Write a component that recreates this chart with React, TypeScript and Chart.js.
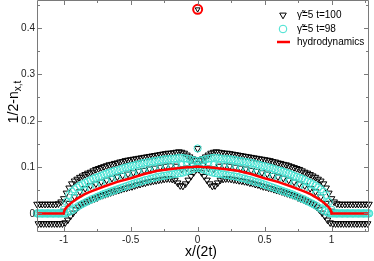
import React, { useEffect, useRef } from "react";
import { Chart, registerables } from "chart.js";
Chart.register(...registerables);

const FONT = "'Liberation Sans', Arial, Helvetica, sans-serif";

const X_MIN = -1.2;
const X_MAX = 1.28;
const Y_MIN = -0.04;
const Y_MAX = 0.46;

// lattice positions x/(2t)
const evenGrid = Array.from({ length: 125 }, (_, k) => -1.2 + 0.02 * k);
const oddGrid = Array.from({ length: 124 }, (_, k) => -1.19 + 0.02 * k);
const coarseGrid = Array.from({ length: 63 }, (_, k) => -1.2 + 0.04 * k);

// γ̃=5, t=100 (triangles)
const triUpperY = [
  0.02, 0.02, 0.02, 0.02, 0.02, 0.02, 0.02, 0.02,
  0.021, 0.025, 0.032, 0.044, 0.055, 0.064, 0.07, 0.074, 0.078, 0.081, 0.084, 0.087,
  0.089, 0.092, 0.095, 0.097, 0.099, 0.101, 0.103, 0.105, 0.106, 0.108,
  0.109, 0.111, 0.112, 0.114, 0.115, 0.116, 0.117, 0.118, 0.119, 0.12,
  0.121, 0.122, 0.123, 0.124, 0.125, 0.126, 0.127, 0.128, 0.129, 0.13,
  0.13, 0.131, 0.132, 0.133, 0.132, 0.13, 0.126, 0.122, 0.118, 0.115,
  0.14,
  0.115, 0.118, 0.122, 0.126, 0.13, 0.132, 0.133, 0.132, 0.131, 0.13,
  0.13, 0.129, 0.128, 0.127, 0.126, 0.125, 0.124, 0.123, 0.122, 0.121,
  0.12, 0.119, 0.118, 0.117, 0.116, 0.115, 0.114, 0.112, 0.111, 0.109,
  0.108, 0.106, 0.105, 0.103, 0.101, 0.099, 0.097, 0.095, 0.092, 0.089,
  0.087, 0.084, 0.081, 0.078, 0.074, 0.07, 0.064, 0.055, 0.044, 0.032, 0.025, 0.021,
  0.02, 0.02, 0.02, 0.02, 0.02, 0.02, 0.02, 0.02, 0.02, 0.02, 0.02, 0.02,
];
const triLowerY = [
  -0.022, -0.022, -0.022, -0.022, -0.022, -0.022, -0.022, -0.022, -0.022,
  -0.022, -0.02, -0.014, -0.006, 0.001, 0.008, 0.014, 0.019, 0.022, 0.025, 0.027,
  0.03, 0.032, 0.034, 0.037, 0.039, 0.041, 0.043, 0.045, 0.047, 0.049,
  0.05, 0.052, 0.054, 0.055, 0.057, 0.058, 0.06, 0.062, 0.063, 0.065,
  0.066, 0.068, 0.069, 0.07, 0.071, 0.072, 0.073, 0.074, 0.075, 0.075,
  0.074, 0.072, 0.066, 0.06, 0.059, 0.064, 0.072, 0.08, 0.088, 0.095,
  0.095, 0.088, 0.08, 0.072, 0.064, 0.059, 0.06, 0.066, 0.072, 0.074,
  0.075, 0.075, 0.074, 0.073, 0.072, 0.071, 0.07, 0.069, 0.068, 0.066,
  0.065, 0.063, 0.062, 0.06, 0.058, 0.057, 0.055, 0.054, 0.052, 0.05,
  0.049, 0.047, 0.045, 0.043, 0.041, 0.039, 0.037, 0.034, 0.032, 0.03,
  0.027, 0.025, 0.022, 0.019, 0.014, 0.008, 0.001, -0.006, -0.014, -0.02, -0.022,
  -0.022, -0.022, -0.022, -0.022, -0.022, -0.022, -0.022, -0.022, -0.022, -0.022, -0.022, -0.022, -0.022,
];
const triMidY = [
  null, null, null, null, null,
  0.005, 0.022, 0.036, 0.047, 0.054, 0.06, 0.064, 0.068, 0.072, 0.076,
  0.079, 0.082, 0.085, 0.088, 0.091, 0.093, 0.096, 0.098, 0.1, 0.102,
  0.103, 0.102, 0.096, 0.098, 0.104,
  0.108,
  0.104, 0.098, 0.096, 0.102, 0.103,
  0.102, 0.1, 0.098, 0.096, 0.093, 0.091, 0.088, 0.085, 0.082, 0.079,
  0.076, 0.072, 0.068, 0.064, 0.06, 0.054, 0.047, 0.036, 0.022, 0.005,
  null, null, null, null, null, null, null,
];

// γ̃=5, t=98 (circles)
const cyanUpY = [
  0, 0, 0, 0, 0, 0, 0, 0, 0, 0,
  0.008, 0.025, 0.04, 0.047, 0.052, 0.056, 0.06, 0.063, 0.066, 0.069,
  0.072, 0.075, 0.077, 0.079, 0.081, 0.084, 0.086, 0.088, 0.09, 0.092,
  0.093, 0.095, 0.097, 0.099, 0.1, 0.102, 0.103, 0.105, 0.106, 0.108,
  0.109, 0.11, 0.111, 0.112, 0.113, 0.114, 0.115, 0.116, 0.117, 0.117,
  0.118, 0.118, 0.119, 0.12, 0.12, 0.119, 0.118, 0.117, 0.115, 0.114,
  0.14,
  0.114, 0.115, 0.117, 0.118, 0.119, 0.12, 0.12, 0.119, 0.118, 0.118,
  0.117, 0.117, 0.116, 0.115, 0.114, 0.113, 0.112, 0.111, 0.11, 0.109,
  0.108, 0.106, 0.105, 0.103, 0.102, 0.1, 0.099, 0.097, 0.095, 0.093,
  0.092, 0.09, 0.088, 0.086, 0.084, 0.081, 0.079, 0.077, 0.075, 0.072,
  0.069, 0.066, 0.063, 0.06, 0.056, 0.052, 0.047, 0.04, 0.025, 0.008,
  0, 0, 0, 0, 0, 0, 0, 0, 0, 0, 0, 0, 0, 0,
];
const cyanLoY = [
  0, 0, 0, 0, 0, 0, 0, 0, 0, 0,
  0, 0.002, 0.005, 0.008, 0.012, 0.016, 0.019, 0.022, 0.025, 0.028,
  0.031, 0.033, 0.036, 0.038, 0.041, 0.043, 0.045, 0.047, 0.049, 0.051,
  0.053, 0.055, 0.057, 0.059, 0.061, 0.063, 0.065, 0.067, 0.068, 0.07,
  0.072, 0.073, 0.075, 0.076, 0.078, 0.079, 0.08, 0.081, 0.082, 0.083,
  0.084, 0.085, 0.086, 0.087, 0.088, 0.09, 0.092, 0.094, 0.096, 0.098,
  0.098, 0.096, 0.094, 0.092, 0.09, 0.088, 0.087, 0.086, 0.085, 0.084,
  0.083, 0.082, 0.081, 0.08, 0.079, 0.078, 0.076, 0.075, 0.073, 0.072,
  0.07, 0.068, 0.067, 0.065, 0.063, 0.061, 0.059, 0.057, 0.055, 0.053,
  0.051, 0.049, 0.047, 0.045, 0.043, 0.041, 0.038, 0.036, 0.033, 0.031,
  0.028, 0.025, 0.022, 0.019, 0.016, 0.012, 0.008, 0.005, 0.002, 0,
  0, 0, 0, 0, 0, 0, 0, 0, 0, 0, 0, 0, 0, 0,
];
const cyanMidY = [
  0, 0, 0, 0, 0,
  0, 0.022, 0.034, 0.042, 0.048, 0.054, 0.059, 0.064, 0.068, 0.072, 0.075, 0.079, 0.082, 0.085, 0.088, 0.091, 0.093, 0.096, 0.098, 0.1, 0.101, 0.103, 0.104, 0.105, 0.106,
  0.107,
  0.106, 0.105, 0.104, 0.103, 0.101, 0.1, 0.098, 0.096, 0.093, 0.091, 0.088, 0.085, 0.082, 0.079, 0.075, 0.072, 0.068, 0.064, 0.059, 0.054, 0.048, 0.042, 0.034, 0.022, 0,
  0, 0, 0, 0, 0, 0, 0,
];

// hydrodynamics curve
const hydroX = [-1.2, -1.0, -0.997, -0.99, -0.98, -0.96, -0.93, -0.9, -0.84, -0.8, -0.7, -0.6, -0.5, -0.4, -0.3, -0.2, -0.1, -0.04, 0, 0.04, 0.1, 0.2, 0.3, 0.4, 0.5, 0.6, 0.7, 0.8, 0.84, 0.9, 0.93, 0.96, 0.98, 0.99, 0.997, 1.0, 1.28];
const hydroY = [0, 0, 0.005, 0.009, 0.013, 0.019, 0.026, 0.032, 0.042, 0.047, 0.058, 0.068, 0.076, 0.085, 0.092, 0.096, 0.099, 0.1, 0.101, 0.1, 0.099, 0.096, 0.092, 0.085, 0.076, 0.068, 0.058, 0.047, 0.042, 0.032, 0.026, 0.019, 0.013, 0.009, 0.005, 0, 0];

// isolated point
const peakX = [0];
const peakY = [0.44];

const xTickLabels = [-1, -0.5, 0, 0.5, 1];
const yTickLabels = [0, 0.1, 0.2, 0.3, 0.4];

const LEGEND = ["γ̃=5 t=100", "γ̃=5 t=98", "hydrodynamics"];
const X_TITLE = "x/(2t)";
const Y_TITLE_MAIN = "1/2-n";
const Y_TITLE_SUB = "x,t";

const CYAN = "#40E0D0";
const FRAME = "#7a7a7a";

const pts = (xs: number[], ys: (number | null)[]) =>
  ys.map((y, i) => ({ x: xs[i], y })).filter((p) => p.y !== null);

const decorPlugin = {
  id: "decor",
  afterDraw(chart: any) {
    const { ctx, chartArea, scales } = chart;
    const { left, right, top, bottom } = chartArea;
    const xs = scales.x;
    const ys = scales.y;
    ctx.save();
    ctx.strokeStyle = FRAME;
    ctx.lineWidth = 1;
    ctx.beginPath();
    ctx.rect(left + 0.5, top + 0.5, right - left - 1, bottom - top - 1);
    ctx.stroke();
    ctx.beginPath();
    const xt: number[] = [];
    for (let v = -1.0; v <= 1.26; v += 0.25) xt.push(Math.round(v * 100) / 100);
    xt.forEach((v) => {
      const major = Math.abs(v * 2 - Math.round(v * 2)) < 1e-6;
      const len = major ? 5 : 3;
      const px = Math.round(xs.getPixelForValue(v)) + 0.5;
      ctx.moveTo(px, bottom);
      ctx.lineTo(px, bottom - len);
      ctx.moveTo(px, top);
      ctx.lineTo(px, top + len);
    });
    const yt: number[] = [];
    for (let v = 0; v <= 0.451; v += 0.05) yt.push(Math.round(v * 100) / 100);
    yt.forEach((v) => {
      const major = Math.abs(v * 10 - Math.round(v * 10)) < 1e-6;
      const len = major ? 5 : 3;
      const py = Math.round(ys.getPixelForValue(v)) + 0.5;
      ctx.moveTo(left, py);
      ctx.lineTo(left + len, py);
      ctx.moveTo(right, py);
      ctx.lineTo(right - len, py);
    });
    ctx.stroke();

    // tick labels
    ctx.fillStyle = "#222";
    ctx.font = `10px ${FONT}`;
    ctx.textBaseline = "middle";
    ctx.textAlign = "center";
    xTickLabels.forEach((v) => ctx.fillText(String(v), xs.getPixelForValue(v), 240.5));
    ctx.textAlign = "right";
    yTickLabels.forEach((v) => ctx.fillText(String(v), 35, ys.getPixelForValue(v) + 0.5));

    // axis titles
    ctx.fillStyle = "#000";
    ctx.font = `14px ${FONT}`;
    ctx.textAlign = "center";
    ctx.textBaseline = "alphabetic";
    ctx.fillText(X_TITLE, 201, 256);

    ctx.save();
    ctx.translate(18, 102);
    ctx.rotate(-Math.PI / 2);
    ctx.font = `14px ${FONT}`;
    const w1 = ctx.measureText(Y_TITLE_MAIN).width;
    ctx.font = `10px ${FONT}`;
    const w2 = ctx.measureText(Y_TITLE_SUB).width;
    const start = -(w1 + w2) / 2;
    ctx.textAlign = "left";
    ctx.font = `14px ${FONT}`;
    ctx.fillText(Y_TITLE_MAIN, start, 0);
    ctx.font = `10px ${FONT}`;
    ctx.fillText(Y_TITLE_SUB, start + w1, 3);
    ctx.restore();

    // legend
    ctx.font = `10px ${FONT}`;
    ctx.textAlign = "left";
    ctx.textBaseline = "middle";
    const rows = [15, 29, 42];
    const mx = 283;
    ctx.strokeStyle = "#000";
    ctx.lineWidth = 1;
    ctx.beginPath();
    const r = 3.8;
    ctx.moveTo(mx, rows[0] + r);
    ctx.lineTo(mx - r * 0.866, rows[0] - r / 2);
    ctx.lineTo(mx + r * 0.866, rows[0] - r / 2);
    ctx.closePath();
    ctx.stroke();
    ctx.strokeStyle = CYAN;
    ctx.beginPath();
    ctx.arc(mx, rows[1], 3.8, 0, Math.PI * 2);
    ctx.stroke();
    ctx.strokeStyle = "#ff0000";
    ctx.lineWidth = 2.5;
    ctx.beginPath();
    ctx.moveTo(277, rows[2]);
    ctx.lineTo(290, rows[2]);
    ctx.stroke();
    ctx.fillStyle = "#000";
    LEGEND.forEach((t, i) => ctx.fillText(t, 297, rows[i] + 0.5));
    ctx.restore();
  },
};

export default function App() {
  const ref = useRef<HTMLCanvasElement | null>(null);
  useEffect(() => {
    if (!ref.current) return;
    const triStyle = {
      pointStyle: "triangle",
      rotation: 180,
      pointRadius: 3.8,
      borderColor: "#000",
      backgroundColor: "rgba(0,0,0,0)",
      borderWidth: 1,
      clip: false as any,
    };
    const cyanStyle = {
      pointStyle: "circle",
      pointRadius: 3.6,
      borderColor: CYAN,
      backgroundColor: "rgba(0,0,0,0)",
      borderWidth: 1,
      clip: false as any,
    };
    const chart = new Chart(ref.current, {
      type: "scatter",
      data: {
        datasets: [
          {
            label: LEGEND[0],
            data: [...pts(evenGrid, triUpperY), ...pts(oddGrid, triLowerY), ...pts(coarseGrid, triMidY)],
            ...triStyle,
            order: 5,
          } as any,
          {
            label: LEGEND[1],
            data: [...pts(evenGrid, cyanUpY), ...pts(oddGrid, cyanLoY), ...pts(coarseGrid, cyanMidY)],
            ...cyanStyle,
            order: 4,
          } as any,
          {
            label: LEGEND[2],
            data: pts(hydroX, hydroY),
            showLine: true,
            borderColor: "#ff0000",
            borderWidth: 2.5,
            pointRadius: 0,
            order: 3,
            clip: false as any,
          },
          {
            label: "peak",
            data: pts(peakX, peakY),
            pointStyle: "circle",
            pointRadius: 4.5,
            borderColor: "#ff0000",
            backgroundColor: "rgba(0,0,0,0)",
            borderWidth: 2,
            order: 2,
          },
          {
            label: "peak-tri",
            data: pts(peakX, peakY),
            ...triStyle,
            pointRadius: 2.8,
            order: 1,
          } as any,
        ],
      },
      options: {
        animation: false,
        responsive: true,
        maintainAspectRatio: false,
        layout: { autoPadding: false, padding: { top: 0, right: 5, left: 0, bottom: 0 } },
        plugins: { legend: { display: false }, tooltip: { enabled: false } },
        scales: {
          x: {
            type: "linear",
            min: X_MIN,
            max: X_MAX,
            grid: { display: false, drawTicks: false },
            border: { display: false },
            ticks: { display: false },
            afterFit: (s: any) => { s.height = 29; },
          },
          y: {
            type: "linear",
            min: Y_MIN,
            max: Y_MAX,
            grid: { display: false, drawTicks: false },
            border: { display: false },
            ticks: { display: false },
            afterFit: (s: any) => { s.width = 37; },
          },
        },
      },
      plugins: [decorPlugin],
    });
    return () => chart.destroy();
  }, []);
  return (
    <div style={{ position: "fixed", left: 0, top: 0, width: 374, height: 261, background: "#fff" }}>
      <canvas ref={ref} />
    </div>
  );
}
